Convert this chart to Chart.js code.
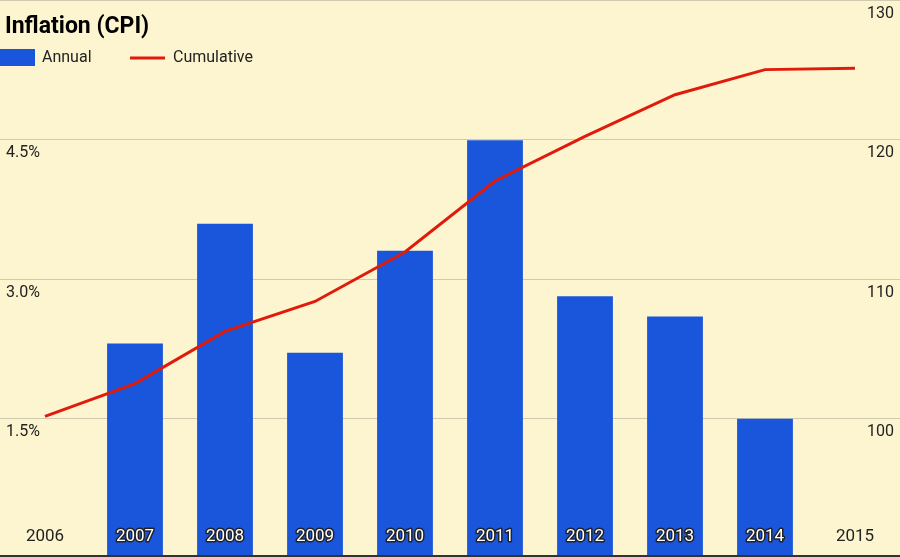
<!DOCTYPE html>
<html>
<head>
<meta charset="utf-8">
<script src="https://cdn.jsdelivr.net/npm/chart.js@4/dist/chart.umd.min.js"></script>
<style>
  html, body { margin: 0; padding: 0; background: #fdf5cf; }
  #wrap { width: 900px; height: 557px; position: relative; }
</style>
</head>
<body>
<div id="wrap"><canvas id="cpiChart"></canvas></div>
<script>
const years = ["2006", "2007", "2008", "2009", "2010", "2011", "2012", "2013", "2014", "2015"];
const annual = [null, 2.30, 3.59, 2.20, 3.30, 4.49, 2.81, 2.59, 1.49, null];
const cumulative = [100.1, 102.45, 106.2, 108.35, 111.9, 117.0, 120.2, 123.2, 125.0, 125.1];
const leftTicks = [1.5, 3.0, 4.5, 6.0];
const rightTicks = [100, 110, 120, 130];

const FONT = "Roboto, 'DejaVu Sans', sans-serif";

// grid, tick labels, title and legend all sit inside the plot area
const overlay = {
  id: "overlay",
  beforeDatasetsDraw(chart) {
    const { ctx, chartArea: a } = chart;
    const yl = chart.scales.y;
    ctx.save();
    ctx.strokeStyle = "#cfcab0";
    ctx.lineWidth = 1;
    leftTicks.forEach(v => {
      const py = Math.round(yl.getPixelForValue(v)) + 0.5;
      ctx.beginPath(); ctx.moveTo(a.left, py); ctx.lineTo(a.right, py); ctx.stroke();
    });
    ctx.restore();
  },
  afterDatasetsDraw(chart) {
    const { ctx, chartArea: a } = chart;
    const yl = chart.scales.y, yr = chart.scales.y1, x = chart.scales.x;
    ctx.save();
    ctx.strokeStyle = "#333";
    ctx.lineWidth = 2;
    ctx.beginPath(); ctx.moveTo(a.left, a.bottom - 1); ctx.lineTo(a.right, a.bottom - 1); ctx.stroke();

    ctx.font = "16px " + FONT;
    ctx.fillStyle = "#222";
    ctx.textBaseline = "top";
    ctx.textAlign = "left";
    leftTicks.slice(0, 3).forEach(v => ctx.fillText(v.toFixed(1) + "%", 6, yl.getPixelForValue(v) + 6));
    ctx.textAlign = "right";
    rightTicks.forEach(v => ctx.fillText(String(v), a.right - 6, Math.max(yr.getPixelForValue(v) + 6, 6)));

    // year labels, outlined where they sit on a bar
    ctx.textAlign = "center";
    ctx.textBaseline = "middle";
    ctx.font = "17px " + FONT;
    years.forEach((yr_, i) => {
      const px = x.getPixelForValue(i);
      if (annual[i] != null) {
        ctx.lineWidth = 3;
        ctx.strokeStyle = "#222";
        ctx.lineJoin = "round";
        ctx.strokeText(yr_, px, 537);
        ctx.fillStyle = "#fff";
      } else {
        ctx.fillStyle = "#222";
      }
      ctx.fillText(yr_, px, 537);
    });

    // title and legend
    ctx.textAlign = "left";
    ctx.fillStyle = "#000";
    ctx.font = "bold 23px " + FONT;
    ctx.fillText("Inflation (CPI)", 5, 27);
    ctx.font = "16px " + FONT;
    ctx.fillStyle = "#1a56db";
    ctx.fillRect(0, 49, 35, 17);
    ctx.fillStyle = "#222";
    ctx.fillText("Annual", 42, 58);
    ctx.strokeStyle = "#e01b0c";
    ctx.lineWidth = 3;
    ctx.beginPath(); ctx.moveTo(130, 58); ctx.lineTo(165, 58); ctx.stroke();
    ctx.fillText("Cumulative", 173, 58);
    ctx.restore();
  }
};

document.addEventListener("DOMContentLoaded", function () {
  new Chart(document.getElementById("cpiChart"), {
    data: {
      labels: years,
      datasets: [
        {
          type: "line",
          label: "Cumulative",
          data: cumulative,
          yAxisID: "y1",
          borderColor: "#e01b0c",
          borderWidth: 3,
          pointRadius: 0,
          tension: 0,
          order: 0
        },
        {
          type: "bar",
          label: "Annual",
          data: annual,
          yAxisID: "y",
          backgroundColor: "#1a56db",
          barPercentage: 0.62,
          categoryPercentage: 1,
          order: 1
        }
      ]
    },
    options: {
      responsive: true,
      maintainAspectRatio: false,
      animation: false,
      layout: { padding: 0 },
      plugins: { legend: { display: false }, tooltip: { enabled: false } },
      scales: {
        x: { display: false, offset: true },
        y: { display: false, min: 0, max: 6 },
        y1: { display: false, min: 90, max: 130, position: "right" }
      }
    },
    plugins: [overlay]
  });
});
</script>
</body>
</html>
